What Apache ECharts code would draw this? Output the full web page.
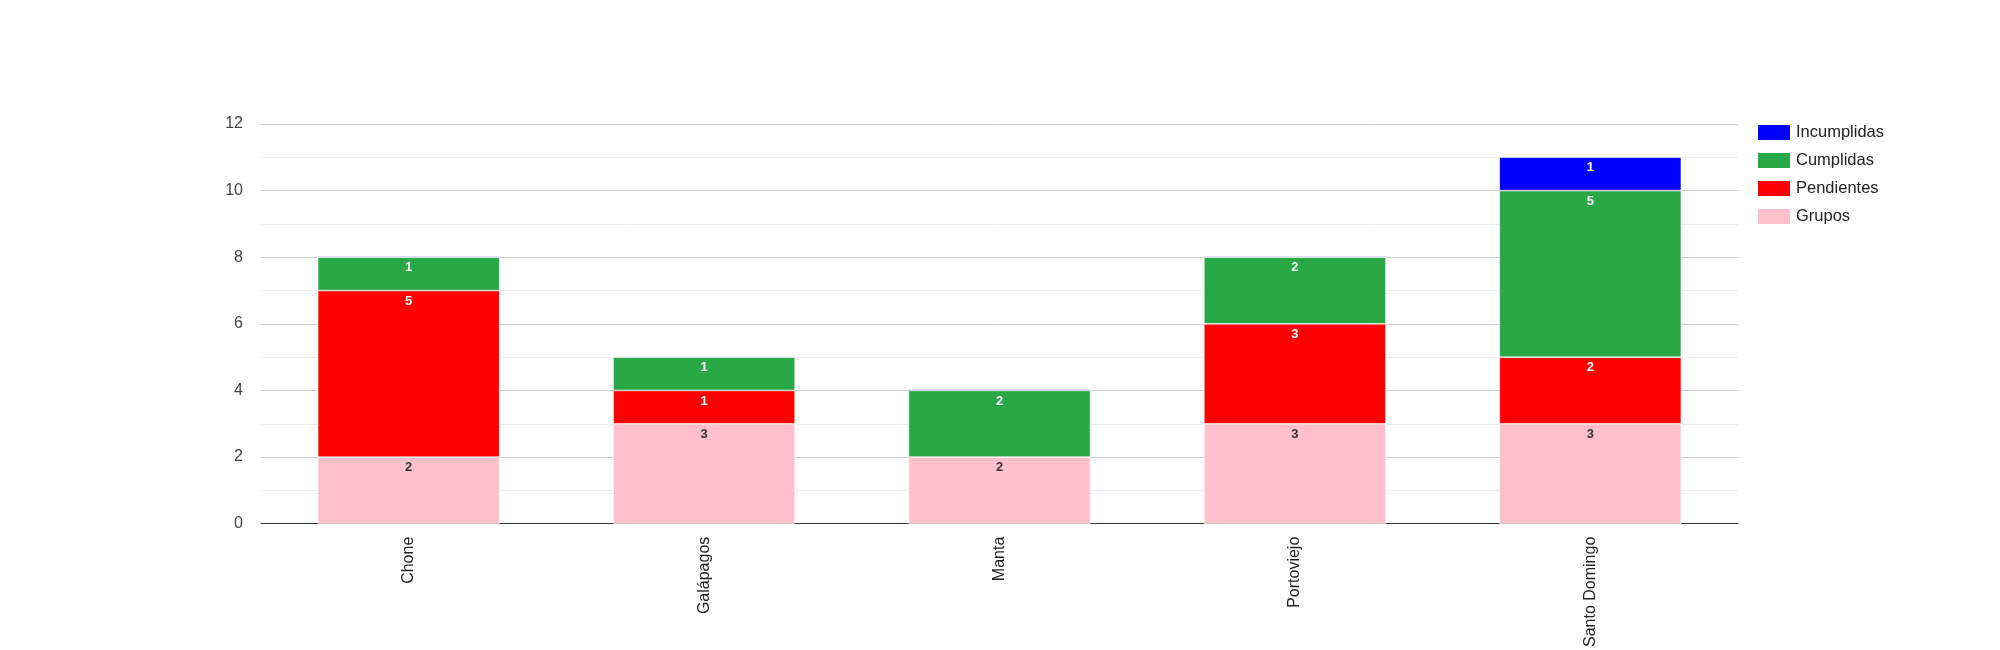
<!DOCTYPE html>
<html lang="es">
	<head>
		<meta charset="UTF-8">
		<title>Grupos por sede</title>
		<style>
			html, body {
				margin: 0;
				padding: 0;
				background: #fff;
			}

			#chart {
				width: 2000px;
				height: 650px;
			}
		</style>
		<script src="https://cdn.jsdelivr.net/npm/echarts@6/dist/echarts.min.js"></script>
	</head>

	<body>
		<div id="chart"></div>

		<script>
			// datos
			var sedes = ['Chone', 'Galápagos', 'Manta', 'Portoviejo', 'Santo Domingo'];
			var grupos = [2, 3, 2, 3, 3];
			var pendientes = [5, 1, 0, 3, 2];
			var cumplidas = [1, 1, 2, 2, 5];
			var incumplidas = [0, 0, 0, 0, 1];
			var yTicks = [0, 2, 4, 6, 8, 10, 12];

			var fuente = '"Liberation Sans", Arial, sans-serif';
			var myChart = echarts.init(document.getElementById('chart'));

			// etiqueta dentro de la barra, oculta cuando vale 0
			function etiqueta(color) {
				return {
					show: true,
					position: 'insideTop',
					distance: 4,
					color: color,
					fontFamily: fuente,
					fontWeight: 'bold',
					fontSize: 13,
					formatter: function (p) {
						return p.value === 0 ? '' : p.value;
					}
				};
			}

			function serie(nombre, datos, color, colorTexto) {
				return {
					name: nombre,
					type: 'bar',
					stack: 'total',
					data: datos,
					barWidth: 182,
					barMinHeight: 1,
					itemStyle: {
						color: color,
						borderColor: '#fff',
						borderWidth: 0.6
					},
					label: etiqueta(colorTexto),
					emphasis: { disabled: true }
				};
			}

			var option = {
				animation: false,
				textStyle: {
					fontFamily: fuente
				},
				grid: {
					left: 261,
					right: 262,
					top: 124,
					bottom: 126,
					containLabel: false
				},
				legend: {
					orient: 'vertical',
					left: 1751,
					top: 118,
					itemWidth: 34,
					itemHeight: 17,
					itemGap: 9,
					icon: 'rect',
					textStyle: {
						color: '#222',
						fontFamily: fuente,
						fontSize: 16.5,
						lineHeight: 18
					},
					data: ['Incumplidas', 'Cumplidas', 'Pendientes', 'Grupos']
				},
				xAxis: {
					type: 'category',
					data: sedes,
					axisTick: { show: false },
					axisLine: { lineStyle: { color: '#333', width: 1 } },
					axisLabel: {
						rotate: 90,
						margin: 13,
						color: '#222',
						fontFamily: fuente,
						fontSize: 16
					}
				},
				yAxis: {
					type: 'value',
					min: yTicks[0],
					max: yTicks[yTicks.length - 1],
					interval: 2,
					axisLine: { show: false },
					axisTick: { show: false },
					axisLabel: {
						margin: 18,
						color: '#444',
						fontFamily: fuente,
						fontSize: 16
					},
					splitLine: { lineStyle: { color: '#ccc' } },
					minorTick: { show: false, splitNumber: 2 },
					minorSplitLine: { show: true, lineStyle: { color: '#ebebeb' } }
				},
				series: [
					serie('Grupos', grupos, '#ffc0cb', '#333'),
					serie('Pendientes', pendientes, '#ff0000', '#fff'),
					serie('Cumplidas', cumplidas, '#28a745', '#fff'),
					serie('Incumplidas', incumplidas, '#0000ff', '#fff')
				]
			};

			myChart.setOption(option);
		</script>
	</body>
</html>
